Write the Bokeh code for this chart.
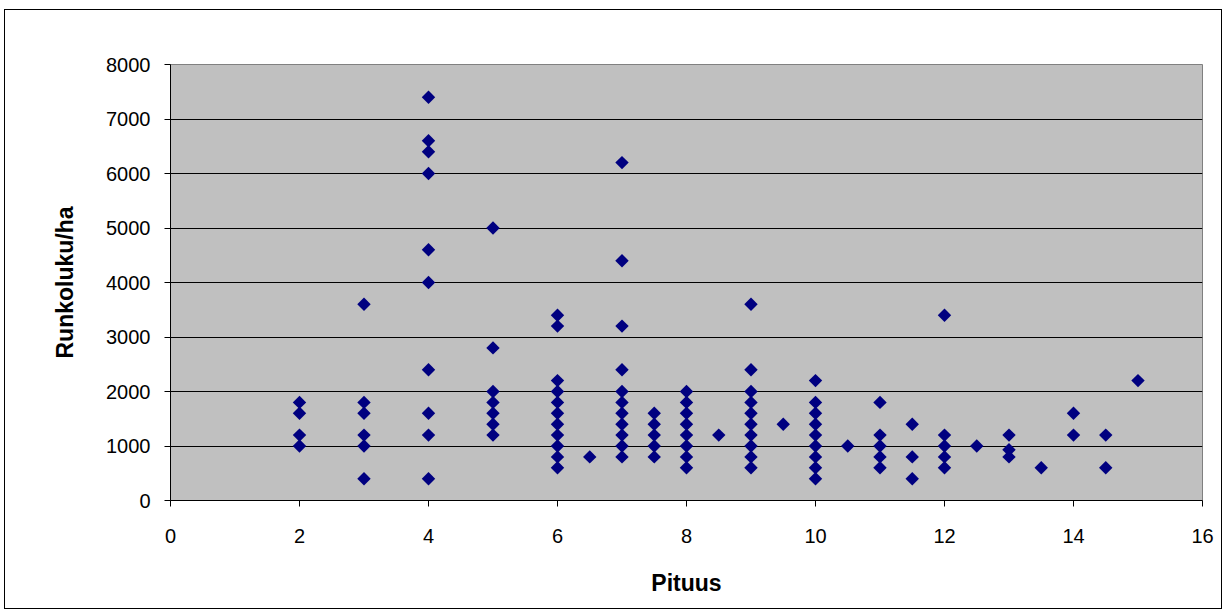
import math
from bokeh.plotting import figure
from bokeh.models import Range1d, FixedTicker
from bokeh.embed import file_html
from bokeh.resources import INLINE

# Data: Pituus (height) vs Runkoluku/ha (stems per hectare)
pituus_2 = [2, 2, 2, 2]
runko_2 = [1000, 1200, 1600, 1800]
pituus_3 = [3, 3, 3, 3, 3, 3]
runko_3 = [400, 1000, 1200, 1600, 1800, 3600]
pituus_4 = [4] * 10
runko_4 = [400, 1200, 1600, 2400, 4000, 4600, 6000, 6400, 6600, 7400]
pituus_5 = [5] * 7
runko_5 = [1200, 1400, 1600, 1800, 2000, 2800, 5000]
pituus_6 = [6] * 11
runko_6 = [600, 800, 1000, 1200, 1400, 1600, 1800, 2000, 2200, 3200, 3400]
pituus_6_5 = [6.5]
runko_6_5 = [800]
pituus_7 = [7] * 11
runko_7 = [800, 1000, 1200, 1400, 1600, 1800, 2000, 2400, 3200, 4400, 6200]
pituus_7_5 = [7.5] * 5
runko_7_5 = [800, 1000, 1200, 1400, 1600]
pituus_8 = [8] * 8
runko_8 = [600, 800, 1000, 1200, 1400, 1600, 1800, 2000]
pituus_8_5 = [8.5]
runko_8_5 = [1200]
pituus_9 = [9] * 10
runko_9 = [600, 800, 1000, 1200, 1400, 1600, 1800, 2000, 2400, 3600]
pituus_9_5 = [9.5]
runko_9_5 = [1400]
pituus_10 = [10] * 9
runko_10 = [400, 600, 800, 1000, 1200, 1400, 1600, 1800, 2200]
pituus_10_5 = [10.5]
runko_10_5 = [1000]
pituus_11 = [11] * 5
runko_11 = [600, 800, 1000, 1200, 1800]
pituus_11_5 = [11.5] * 3
runko_11_5 = [400, 800, 1400]
pituus_12 = [12] * 5
runko_12 = [600, 800, 1000, 1200, 3400]
pituus_12_5 = [12.5]
runko_12_5 = [1000]
pituus_13 = [13, 13, 13]
runko_13 = [800, 930, 1200]
pituus_13_5 = [13.5]
runko_13_5 = [600]
pituus_14 = [14, 14]
runko_14 = [1200, 1600]
pituus_14_5 = [14.5, 14.5]
runko_14_5 = [600, 1200]
pituus_15 = [15]
runko_15 = [2200]

x_ticks = [0, 2, 4, 6, 8, 10, 12, 14, 16]
y_ticks = [0, 1000, 2000, 3000, 4000, 5000, 6000, 7000, 8000]

x = (pituus_2 + pituus_3 + pituus_4 + pituus_5 + pituus_6 + pituus_6_5 + pituus_7
     + pituus_7_5 + pituus_8 + pituus_8_5 + pituus_9 + pituus_9_5 + pituus_10
     + pituus_10_5 + pituus_11 + pituus_11_5 + pituus_12 + pituus_12_5 + pituus_13
     + pituus_13_5 + pituus_14 + pituus_14_5 + pituus_15)
y = (runko_2 + runko_3 + runko_4 + runko_5 + runko_6 + runko_6_5 + runko_7
     + runko_7_5 + runko_8 + runko_8_5 + runko_9 + runko_9_5 + runko_10
     + runko_10_5 + runko_11 + runko_11_5 + runko_12 + runko_12_5 + runko_13
     + runko_13_5 + runko_14 + runko_14_5 + runko_15)

p = figure(width=1216, height=598, output_backend="svg", toolbar_location=None,
           x_range=Range1d(0, 16), y_range=Range1d(0, 8000),
           min_border_left=165, min_border_right=19, min_border_top=54,
           min_border_bottom=108)
p.styles = {"outline": "1px solid #000000", "margin-left": "5px",
            "margin-top": "10px"}

p.background_fill_color = "#C0C0C0"
p.border_fill_color = "white"
p.outline_line_color = "#808080"
p.outline_line_width = 1

p.xgrid.visible = False
p.ygrid.grid_line_color = "#000000"
p.ygrid.grid_line_width = 1
p.ygrid.ticker = FixedTicker(ticks=y_ticks)

p.xaxis.ticker = FixedTicker(ticks=x_ticks)
p.yaxis.ticker = FixedTicker(ticks=y_ticks)
p.xaxis.minor_tick_line_color = None
p.yaxis.minor_tick_line_color = None

for ax in (p.xaxis[0], p.yaxis[0]):
    ax.axis_line_color = "#000000"
    ax.major_tick_line_color = "#000000"
    ax.major_tick_out = 6
    ax.major_tick_in = 0
    ax.major_label_text_font = "Liberation Sans"
    ax.major_label_text_font_size = "20px"
    ax.major_label_text_color = "#000000"
    ax.axis_label_text_font = "Liberation Sans"
    ax.axis_label_text_font_size = "23px"
    ax.axis_label_text_font_style = "bold"
    ax.axis_label_text_color = "#000000"

p.xaxis.axis_label = "Pituus"
p.yaxis.axis_label = "Runkoluku/ha"
p.xaxis.major_label_standoff = 22
p.yaxis.major_label_standoff = 14
p.xaxis.axis_label_standoff = 24
p.yaxis.axis_label_standoff = 25

p.scatter(x, y, marker="square", size=9.5, angle=math.pi / 4,
          fill_color="#000080", line_color="#000080", line_width=0)

open("out.html", "w").write(file_html(p, INLINE))
